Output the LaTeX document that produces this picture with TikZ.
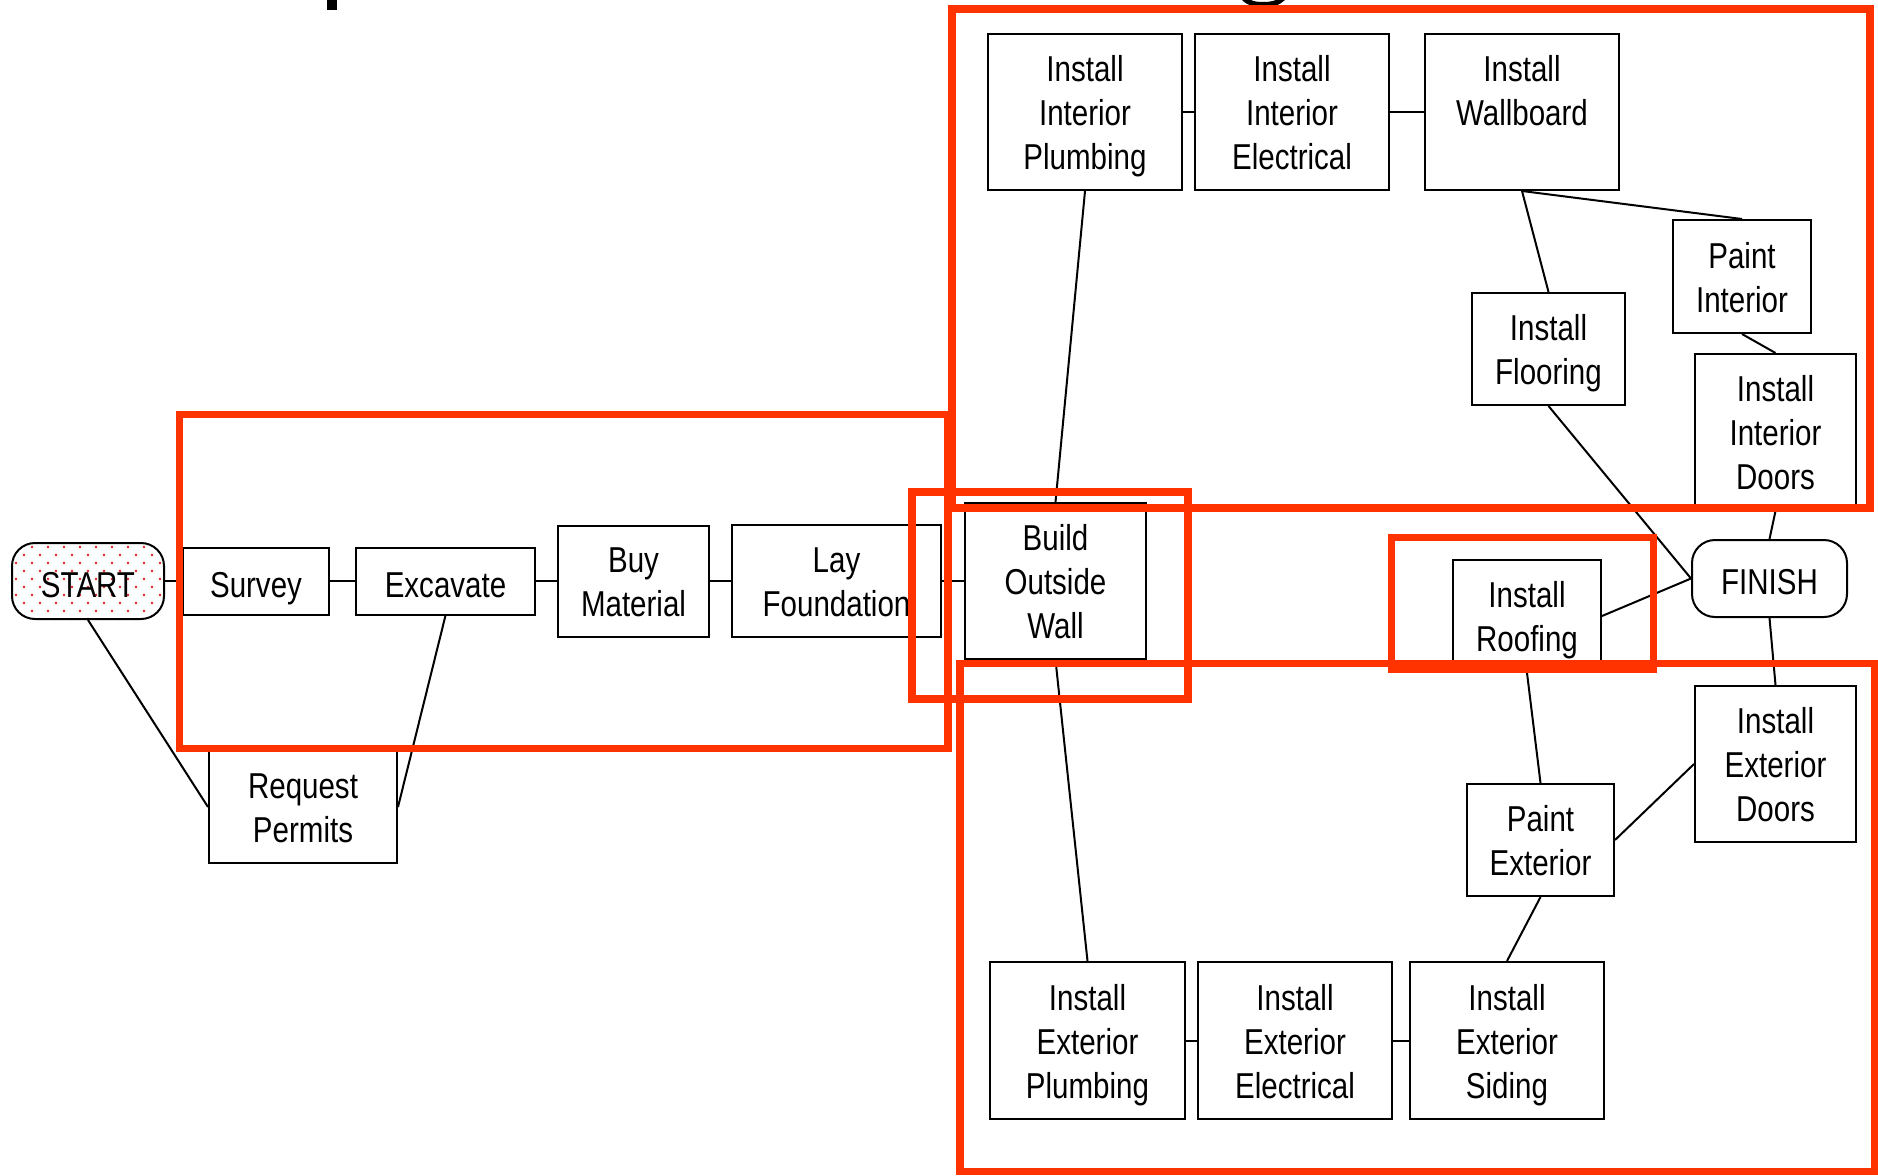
\documentclass[tikz,border=0pt]{standalone}
\usepackage{fontspec}
\setmainfont{Liberation Sans}[FakeStretch=0.82]
\definecolor{hilite}{RGB}{255,51,0}
\definecolor{dotred}{RGB}{235,30,30}
% invisible rules that fix the height above the first and below the last baseline
\newcommand\linestrut{\rule[-9pt]{0pt}{50pt}}
\newcommand\topstrut{\rule{0pt}{36pt}}
\begin{document}
\begin{tikzpicture}[x=1pt,y=-1pt,
  every node/.style={font=\fontsize{36}{44}\selectfont, align=center, inner sep=0pt,
    execute at begin node=\linestrut, execute at end node=\linestrut},
  taskbox/.style={draw=black, line width=2pt, fill=white, rectangle},
  endbox/.style={draw=black, line width=2pt, fill=white, rectangle, rounded corners=23pt},
  link/.style={draw=black, line width=2pt},
  frame/.style={draw=hilite, line width=7.5pt}]
\useasboundingbox (0,0) rectangle (1878,1175);
\fill[white] (0,0) rectangle (1878,1175);

% lower ends of the title glyphs, cut off at the top edge
\fill (327,0) rectangle (337,9.5);
\fill (1242,0) .. controls (1248,6) and (1255,7.5) .. (1263,7.5)
      .. controls (1272,7.5) and (1280,5) .. (1285,0) -- (1276,0)
      .. controls (1272,1.5) and (1268,2) .. (1263,2)
      .. controls (1258,2) and (1254,1.5) .. (1251,0) -- cycle;

% start and finish
\node[endbox, minimum width=152pt, minimum height=76pt,
  path picture={
    \foreach \j in {0,...,10}{
      \foreach \i in {0,...,10}{
        \fill[dotred] ([shift={({16*\i+8*mod(\j,2)+4},{8*\j+4})}]path picture bounding box.north west) circle (1.3);
      }
    }
  }] (start) at (88,581) {START};
\node[endbox, minimum width=155pt, minimum height=77pt] (finish) at (1769.5,578.5) {FINISH};

% site preparation
\node[taskbox, minimum width=146pt, minimum height=67pt] (survey) at (256,581) {Survey};
\node[taskbox, minimum width=179pt, minimum height=67pt] (excavate) at (445.5,581) {Excavate};
\node[taskbox, minimum width=151pt, minimum height=111pt] (buy) at (633.5,581) {\topstrut Buy\\Material};
\node[taskbox, minimum width=209pt, minimum height=112pt] (lay) at (836.5,581) {\topstrut Lay\\Foundation};
\node[taskbox, minimum width=188pt, minimum height=112pt] (permits) at (303,807) {\topstrut Request\\Permits};
\node[taskbox, minimum width=181pt, minimum height=156pt] (build) at (1055.5,581) {\topstrut Build\\Outside\\Wall};

% interior work
\node[taskbox, minimum width=194pt, minimum height=156pt] (intplumb) at (1085,112) {\topstrut Install\\Interior\\Plumbing};
\node[taskbox, minimum width=194pt, minimum height=156pt] (intelec) at (1292,112) {\topstrut Install\\Interior\\Electrical};
\node[taskbox, minimum width=194pt, minimum height=156pt] (wallboard) at (1522,112) {\topstrut Install\\Wallboard\\};
\node[taskbox, minimum width=138pt, minimum height=113pt] (paintint) at (1742,276.5) {\topstrut Paint\\Interior};
\node[taskbox, minimum width=153pt, minimum height=112pt] (flooring) at (1548.5,349) {\topstrut Install\\Flooring};
\node[taskbox, minimum width=161pt, minimum height=156pt] (intdoors) at (1775.5,432) {\topstrut Install\\Interior\\Doors};

% exterior work
\node[taskbox, minimum width=148pt, minimum height=112pt] (roofing) at (1527,616) {\topstrut Install\\Roofing};
\node[taskbox, minimum width=161pt, minimum height=156pt] (extdoors) at (1775.5,764) {\topstrut Install\\Exterior\\Doors};
\node[taskbox, minimum width=147pt, minimum height=112pt] (paintext) at (1540.5,840) {\topstrut Paint\\Exterior};
\node[taskbox, minimum width=195pt, minimum height=157pt] (extplumb) at (1087.5,1040.5) {\topstrut Install\\Exterior\\Plumbing};
\node[taskbox, minimum width=194pt, minimum height=157pt] (extelec) at (1295,1040.5) {\topstrut Install\\Exterior\\Electrical};
\node[taskbox, minimum width=194pt, minimum height=157pt] (siding) at (1507,1040.5) {\topstrut Install\\Exterior\\Siding};

% dependencies
\draw[link] (start.east) -- (survey.west);
\draw[link] (survey.east) -- (excavate.west);
\draw[link] (excavate.east) -- (buy.west);
\draw[link] (buy.east) -- (lay.west);
\draw[link] (lay.east) -- (build.west);
\draw[link] (start.south) -- (permits.west);
\draw[link] (excavate.south) -- (permits.east);
\draw[link] (build.north) -- (intplumb.south);
\draw[link] (intplumb.east) -- (intelec.west);
\draw[link] (intelec.east) -- (wallboard.west);
\draw[link] (wallboard.south) -- (flooring.north);
\draw[link] (wallboard.south) -- (paintint.north);
\draw[link] (paintint.south) -- (intdoors.north);
\draw[link] (intdoors.south) -- (finish.north);
\draw[link] (flooring.south) -- (finish.west);
\draw[link] (roofing.east) -- (finish.west);
\draw[link] (build.south) -- (extplumb.north);
\draw[link] (extplumb.east) -- (extelec.west);
\draw[link] (extelec.east) -- (siding.west);
\draw[link] (siding.north) -- (paintext.south);
\draw[link] (paintext.north) -- (roofing.south);
\draw[link] (paintext.east) -- (extdoors.west);
\draw[link] (extdoors.north) -- (finish.south);

% highlighted groups
\draw[frame] (952,9) rectangle (1870,508);
\draw[frame] (179.5,414.5) rectangle (948,748.5);
\draw[frame] (912,492) rectangle (1188,699);
\draw[frame] (1391.5,537.5) rectangle (1653.5,669.5);
\draw[frame] (960,663.5) rectangle (1874.5,1171.5);
\end{tikzpicture}
\end{document}
